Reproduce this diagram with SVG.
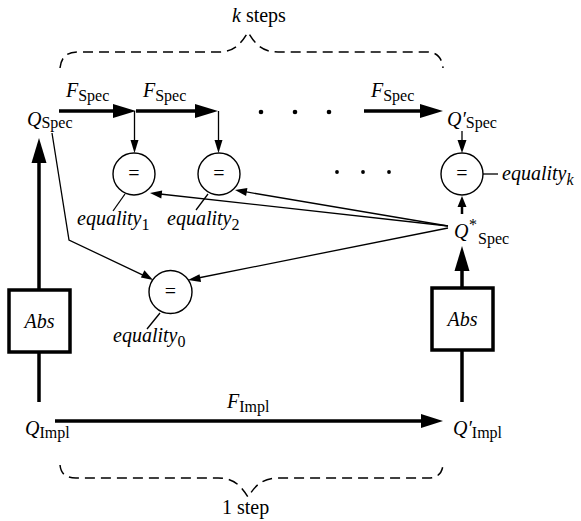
<svg xmlns="http://www.w3.org/2000/svg" width="581" height="521" viewBox="0 0 581 521">
<defs>
<style>
text{font-family:"Times New Roman",Times,"Liberation Serif",Tinos,"Nimbus Roman","Noto Serif","DejaVu Serif",FreeSerif,serif;font-size:20px;fill:#000}
.i{font-style:italic}
.s{font-size:16px;font-style:normal}
.thin{stroke:#000;stroke-width:1.3;fill:none}
.thick{stroke:#000;stroke-width:3.5;fill:none}
.brace{stroke:#000;stroke-width:1.5;fill:none;stroke-dasharray:10 6}
.circ{stroke:#000;stroke-width:1.4;fill:#fff}
.box{stroke:#000;stroke-width:3.5;fill:#fff}
</style>
</defs>
<rect width="581" height="521" fill="#fff"/>

<g id="braces">
<path class="brace" d="M60 68 C61 58 66 52 78 52 L218 52 C234 52 241 44 248 32 C255 44 262 52 278 52 L427 52 C437 52 442 58 443 68"/>
<path class="brace" d="M60 465 C61 474 66 478 76 478 L218 478 C234 478 241 486 248 497 C255 486 262 478 278 478 L428 478 C437 478 442 474 443 465"/>
<text x="232" y="22"><tspan class="i">k</tspan> steps</text>
<text x="222" y="514">1 step</text>
</g>

<g id="connectors">
<line class="thick" x1="59" y1="111" x2="115" y2="111"/>
<polygon points="113,104 136,111 113,118"/>
<line class="thick" x1="136" y1="111" x2="197" y2="111"/>
<polygon points="195,104 218,111 195,118"/>
<line class="thick" x1="364" y1="111" x2="422" y2="111"/>
<polygon points="420,104 443,111 420,118"/>
<line class="thin" x1="134.5" y1="111" x2="134.5" y2="142"/>
<polygon points="130.5,140 134.5,153 138.5,140"/>
<line class="thin" x1="218.5" y1="111" x2="218.5" y2="142"/>
<polygon points="214.5,140 218.5,153 222.5,140"/>
<line class="thin" x1="462" y1="131" x2="462" y2="142"/>
<polygon points="457.5,140 462,153 466.5,140"/>
<line x1="462" y1="214" x2="462" y2="205" stroke="#000" stroke-width="2.5"/>
<polygon points="457.5,207 462,196 466.5,207"/>
<line class="thin" x1="448" y1="226" x2="160" y2="194"/>
<polygon points="150,193 162.2,190.4 161.3,198.4"/>
<line class="thin" x1="448" y1="226" x2="245" y2="191.7"/>
<polygon points="235,190 247.4,188 246.1,195.9"/>
<line class="thin" x1="448" y1="228" x2="198" y2="278"/>
<polygon points="188,280 199.5,274.2 201.1,282.1"/>
<polyline class="thin" points="52,133 69,240 144,275.7"/>
<polygon points="153,280 140.9,277.5 144.4,270.3"/>
<line class="thin" x1="125" y1="194" x2="113" y2="211"/>
<line class="thin" x1="208" y1="194" x2="196" y2="210"/>
<line class="thin" x1="160" y1="313" x2="147" y2="329"/>
<line class="thin" x1="483" y1="174" x2="498" y2="174" stroke-width="1.6"/>
<line class="thick" x1="39" y1="402" x2="39" y2="160"/>
<polygon points="31.5,163 39,138 46.5,163"/>
<line class="thick" x1="462" y1="402" x2="462" y2="268"/>
<polygon points="454.5,271 462,246 469.5,271"/>
<line class="thick" x1="55" y1="421" x2="423" y2="421"/>
<polygon points="421,414 443,421 421,428"/>
<circle cx="261" cy="112" r="2.3"/>
<circle cx="295" cy="112" r="2.3"/>
<circle cx="329" cy="112" r="2.3"/>
<circle cx="337" cy="172" r="1.9"/>
<circle cx="363" cy="172" r="1.9"/>
<circle cx="389" cy="172" r="1.9"/>
</g>

<g id="labels">
<text x="66" y="97" class="i">F<tspan class="s" dy="4">Spec</tspan></text>
<text x="143" y="97" class="i">F<tspan class="s" dy="4">Spec</tspan></text>
<text x="371" y="97" class="i">F<tspan class="s" dy="4">Spec</tspan></text>
<text x="227" y="408" class="i">F<tspan class="s" dy="4">Impl</tspan></text>
</g>

<g id="QSpec"><text x="27" y="126" class="i">Q<tspan class="s" dy="2">Spec</tspan></text></g>
<g id="QpSpec"><text x="447" y="126" class="i">Q′<tspan class="s" dy="2">Spec</tspan></text></g>
<g id="QstarSpec">
<text x="454" y="238" class="i">Q</text>
<text x="469" y="230" class="s">*</text>
<text x="478" y="244" class="s">Spec</text>
</g>
<g id="QImpl"><text x="25" y="435" class="i">Q<tspan class="s" dy="3">Impl</tspan></text></g>
<g id="QpImpl"><text x="453" y="435" class="i">Q′<tspan class="s" dy="3">Impl</tspan></text></g>

<g id="eq1">
<circle class="circ" cx="134" cy="174" r="21"/>
<text x="134" y="180" text-anchor="middle">=</text>
<text x="77" y="225" class="i">equality<tspan class="s" dy="5">1</tspan></text>
</g>
<g id="eq2">
<circle class="circ" cx="219" cy="174" r="21"/>
<text x="219" y="180" text-anchor="middle">=</text>
<text x="167" y="225" class="i">equality<tspan class="s" dy="5">2</tspan></text>
</g>
<g id="eqk">
<circle class="circ" cx="462" cy="174" r="21"/>
<text x="462" y="180" text-anchor="middle">=</text>
<text x="502" y="180" class="i">equality<tspan class="i" font-size="16" dy="5">k</tspan></text>
</g>
<g id="eq0">
<circle class="circ" cx="170.5" cy="292" r="21.5"/>
<text x="170.5" y="298" text-anchor="middle">=</text>
<text x="113" y="342" class="i">equality<tspan class="s" dy="5">0</tspan></text>
</g>

<g id="absL">
<rect class="box" x="9" y="290" width="61" height="62"/>
<text x="39.5" y="328" class="i" text-anchor="middle">Abs</text>
</g>
<g id="absR">
<rect class="box" x="432" y="288" width="61" height="62"/>
<text x="462.5" y="326" class="i" text-anchor="middle">Abs</text>
</g>
</svg>
